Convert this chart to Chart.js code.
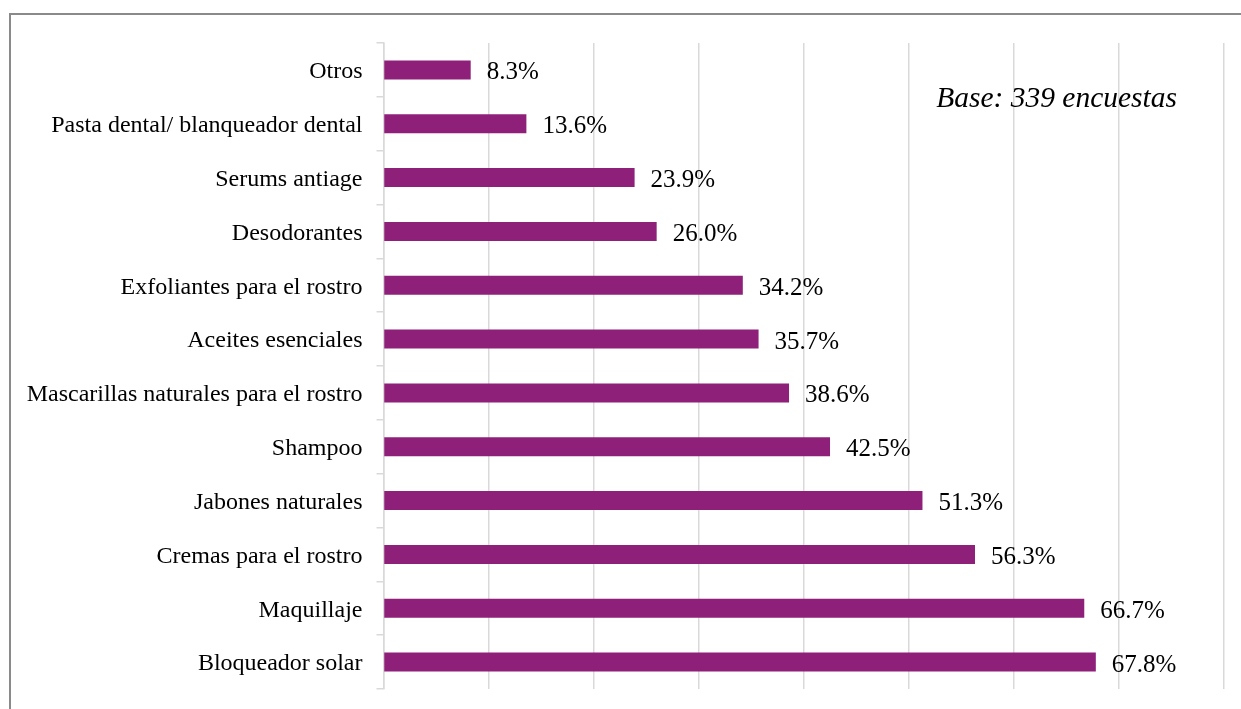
<!DOCTYPE html>
<html>
<head>
<meta charset="utf-8">
<script src="https://cdn.jsdelivr.net/npm/chart.js@4"></script>
<style>
    body { margin: 0; background: #fff; }
    #wrap { position: relative; width: 1241px; height: 709px; }
    #frame { position: absolute; left: 9px; top: 13px; right: 0; bottom: 0;
             border-left: 2px solid #8a8a8a; border-top: 2px solid #8a8a8a; }
    canvas { position: absolute; left: 0; top: 0; }
</style>
</head>
<body>
<div id="wrap">
    <div id="frame"></div>
    <canvas id="productosChart" width="1241" height="709"></canvas>
</div>
<script>
var categorias = [
    'Otros',
    'Pasta dental/ blanqueador dental',
    'Serums antiage',
    'Desodorantes',
    'Exfoliantes para el rostro',
    'Aceites esenciales',
    'Mascarillas naturales para el rostro',
    'Shampoo',
    'Jabones naturales',
    'Cremas para el rostro',
    'Maquillaje',
    'Bloqueador solar'
];
var porcentajes = [8.3, 13.6, 23.9, 26.0, 34.2, 35.7, 38.6, 42.5, 51.3, 56.3, 66.7, 67.8];
var nota = 'Base: 339 encuestas';

// etiquetas de valor al final de cada barra
var etiquetasPlugin = {
    id: 'etiquetas',
    afterDatasetsDraw: function(chart) {
        var ctx = chart.ctx;
        var meta = chart.getDatasetMeta(0);
        ctx.save();
        ctx.fillStyle = '#000';
        ctx.font = '25px "Liberation Serif"';
        ctx.textAlign = 'left';
        ctx.textBaseline = 'middle';
        meta.data.forEach(function(bar, i) {
            ctx.fillText(porcentajes[i].toFixed(1) + '%', bar.x + 16, bar.y + 3);
        });
        ctx.font = 'italic 29.5px "Liberation Serif"';
        ctx.textAlign = 'right';
        ctx.textBaseline = 'alphabetic';
        ctx.fillText(nota, 1177, 107);
        ctx.restore();
    }
};

var ctx = document.getElementById('productosChart').getContext('2d');
var productosChart = new Chart(ctx, {
    type: 'bar',
    data: {
        labels: categorias,
        datasets: [{
            data: porcentajes,
            backgroundColor: '#8E2079',
            categoryPercentage: 1,
            barPercentage: 0.353
        }]
    },
    options: {
        indexAxis: 'y',
        responsive: false,
        animation: false,
        devicePixelRatio: 1,
        layout: { padding: { left: 0, right: 17, top: 43, bottom: 20 } },
        plugins: {
            legend: { display: false },
            tooltip: { enabled: false }
        },
        scales: {
            x: {
                min: 0,
                max: 80,
                ticks: { display: false, stepSize: 10 },
                grid: { color: '#d9d9d9', lineWidth: 1.5, drawTicks: false },
                border: { display: false },
                afterFit: function(scale) { scale.height = 0; }
            },
            y: {
                grid: { offset: true, drawOnChartArea: false, color: '#d9d9d9', lineWidth: 1.5, tickLength: 7 },
                border: { display: true, color: '#d9d9d9', width: 1.5 },
                ticks: {
                    color: '#000',
                    padding: 14,
                    labelOffset: 2,
                    font: { family: '"Liberation Serif"', size: 24 }
                },
                afterFit: function(scale) {
                    scale.width = 383.5;
                    scale.paddingTop = 0;
                    scale.paddingBottom = 0;
                }
            }
        }
    },
    plugins: [etiquetasPlugin]
});
</script>
</body>
</html>
